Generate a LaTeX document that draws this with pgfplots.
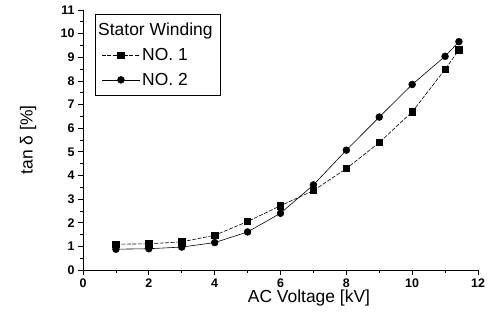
\documentclass[border=0pt]{standalone}
\usepackage{fontspec}
\setmainfont{Liberation Sans}
\usepackage{pgfplots}
\pgfplotsset{compat=1.18}
\begin{document}
\begin{tikzpicture}
\begin{axis}[
  scale only axis,
  width=395bp, height=260bp,
  xmin=0, xmax=12, ymin=0, ymax=11,
  axis x line*=bottom, axis y line*=left,
  axis line style={-, line width=0.8pt},
  xtick={0,2,...,12}, ytick={0,1,...,11},
  minor x tick num=1, minor y tick num=1,
  tick align=outside,
  major tick length=5bp, minor tick length=3bp,
  tick style={black, line width=0.7pt},
  /pgf/number format/assume math mode=true,
  tick label style={font=\fontsize{12.5}{14}\selectfont\bfseries},
  xlabel={AC Voltage [kV]},
  ylabel={tan δ [\%]},
  label style={font=\fontsize{17.5}{20}\selectfont},
  xlabel style={at={(axis description cs:0.572,-0.108)}, anchor=center},
  ylabel style={at={(axis description cs:-0.139,0.5)}, anchor=center},
  clip=false,
  legend style={at={(0.031,0.985)}, anchor=north west, draw=black, line width=0.8pt,
    font=\fontsize{17.5}{20}\selectfont, row sep=7bp, inner xsep=6bp, inner ysep=7bp},
  legend cell align=left,
  legend image code/.code={\draw[mark repeat=2,mark phase=2] plot coordinates {(0bp,0bp) (19bp,0bp) (38bp,0bp)};},
]
\addlegendimage{empty legend}
\addlegendentry{\hspace*{-44bp}Stator Winding}
\addplot[black, line width=0.6pt, dash pattern=on 4pt off 1.5pt, mark=square*, mark size=3.2bp, mark options={solid}] coordinates {
(1,1.09) (2,1.11) (3,1.19) (4,1.47) (5,2.05) (6,2.72) (7,3.36) (8,4.29) (9,5.39) (10,6.69) (11,8.49) (11.42,9.31)
};
\addlegendentry{NO. 1}
\addplot[black, line width=0.6pt, mark=*, mark size=3.4bp] coordinates {
(1,0.88) (2,0.90) (3,0.97) (4,1.16) (5,1.61) (6,2.40) (7,3.60) (8,5.07) (9,6.47) (10,7.85) (11,9.04) (11.42,9.66)
};
\addlegendentry{NO. 2}
\end{axis}
\path (current axis.south west) ++(-83bp,-54bp) coordinate (bbA);
\path (current axis.north east) ++(14bp,10bp) coordinate (bbB);
\path (bbA) rectangle (bbB);
\end{tikzpicture}
\end{document}
